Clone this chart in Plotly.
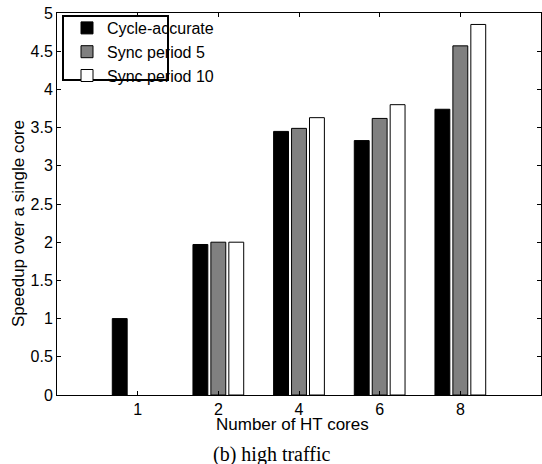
import plotly.graph_objects as go

categories = ["1", "2", "4", "6", "8"]
cycle_accurate = [1.00, 1.97, 3.45, 3.33, 3.74]
sync_period_5 = [None, 2.00, 3.49, 3.62, 4.57]
sync_period_10 = [None, 2.00, 3.63, 3.80, 4.85]
y_ticks = [0, 0.5, 1, 1.5, 2, 2.5, 3, 3.5, 4, 4.5, 5]
y_tick_text = ["0", "0.5", "1", "1.5", "2", "2.5", "3", "3.5", "4", "4.5", "5"]

positions = list(range(1, len(categories) + 1))

fig = go.Figure()
series = [
    ("Cycle-accurate", cycle_accurate, "#000000"),
    ("Sync period 5", sync_period_5, "#808080"),
    ("Sync period 10", sync_period_10, "#ffffff"),
]
for name, vals, col in series:
    fig.add_trace(go.Bar(
        x=positions, y=vals, name=name,
        marker=dict(color=col, line=dict(color="#000000", width=1)),
    ))

font = dict(family="Liberation Sans, Arial, sans-serif", size=17, color="#000000")
tick_font = dict(family="Liberation Sans, Arial, sans-serif", size=16, color="#000000")

# plot area in pixels: left 57, right 541, top 13, bottom 395
PL, PR, PT, PB = 57, 541, 13, 395
def px(x):
    return (x - PL) / (PR - PL)
def py(y):
    return (PB - y) / (PB - PT)

fig.update_layout(
    width=542, height=464,
    margin=dict(l=PL, r=542 - PR, t=PT, b=464 - PB),
    paper_bgcolor="white", plot_bgcolor="white",
    barmode="group", bargap=0.333, bargroupgap=0.17,
    font=font,
    showlegend=True,
    legend=dict(
        x=px(67), y=py(11), xanchor="left", yanchor="top",
        borderwidth=0, bgcolor="rgba(0,0,0,0)",
        font=dict(family="Liberation Sans, Arial, sans-serif", size=16, color="#000000"),
        tracegroupgap=0, itemwidth=30,
    ),
    xaxis=dict(
        range=[0, 6], tickmode="array", tickvals=positions, ticktext=categories,
        ticks="inside", ticklen=4, tickcolor="#000000",
        showline=True, linecolor="#000000", linewidth=1, mirror="allticks",
        showgrid=False, zeroline=False,
        tickfont=tick_font,
    ),
    yaxis=dict(
        range=[0, 5], tickmode="array", tickvals=y_ticks, ticktext=y_tick_text,
        ticks="inside", ticklen=4, tickcolor="#000000",
        showline=True, linecolor="#000000", linewidth=1, mirror="allticks",
        showgrid=False, zeroline=False,
        tickfont=tick_font,
    ),
    shapes=[dict(
        type="rect", xref="paper", yref="paper",
        x0=px(63), x1=px(168), y0=py(80), y1=py(16),
        line=dict(color="#000000", width=2), fillcolor="rgba(0,0,0,0)", layer="above",
    )],
    annotations=[
        dict(
            text="Number of HT cores", xref="paper", yref="paper",
            x=px(292), y=py(425), xanchor="center", yanchor="middle",
            showarrow=False, font=font,
        ),
        dict(
            text="Speedup over a single core", xref="paper", yref="paper",
            x=px(19), y=py(224), xanchor="center", yanchor="middle",
            textangle=-90, showarrow=False, font=font,
        ),
        dict(
            text="(b) high traffic", xref="paper", yref="paper",
            x=px(271), y=py(454), xanchor="center", yanchor="middle",
            showarrow=False,
            font=dict(family="Liberation Serif, Times New Roman, serif", size=20, color="#000000"),
        ),
    ],
)

fig.write_html(
    "out.html",
    config={"displayModeBar": False},
    post_script="document.body.style.margin='0';document.body.style.padding='0';",
)
